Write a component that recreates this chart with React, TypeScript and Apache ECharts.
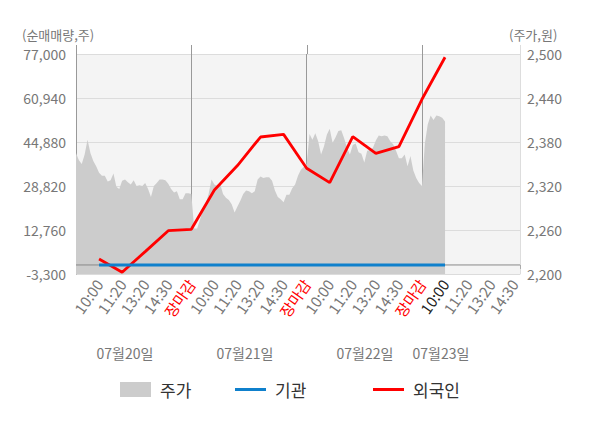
import React, { useEffect, useRef } from 'react';
import * as echarts from 'echarts';

const FONT = 'Noto Sans CJK KR';

// x axis: each day = 5 slots, each slot = 8 steps
const slotLabels = ['10:00', '11:20', '13:20', '14:30', '장마감'];
const dayLabels = ['07월20일', '07월21일', '07월22일', '07월23일'];
const STEPS_PER_SLOT = 8;
const SLOTS_PER_DAY = 5;
const AXIS_STEPS = 154;

// 주가 (price, right axis)
const day1Price = [2365, 2355, 2350, 2363, 2383, 2365, 2354, 2347, 2338, 2334, 2334, 2326, 2328, 2337, 2319, 2316, 2327, 2329, 2325, 2322, 2328, 2320, 2321, 2320, 2324, 2316, 2305, 2320, 2324, 2329, 2329, 2328, 2323, 2316, 2311, 2313, 2302, 2302, 2310, 2310, 2309];
const day2Price = [2262, 2262, 2274, 2288, 2296, 2309, 2329, 2322, 2320, 2323, 2309, 2304, 2301, 2295, 2284, 2292, 2300, 2309, 2314, 2313, 2310, 2313, 2329, 2333, 2331, 2332, 2332, 2327, 2314, 2305, 2302, 2298, 2308, 2308, 2317, 2322, 2334, 2342, 2346, 2350];
const day3Price = [2391, 2383, 2392, 2381, 2363, 2374, 2390, 2398, 2379, 2386, 2395, 2396, 2385, 2372, 2363, 2376, 2378, 2366, 2364, 2352, 2368, 2369, 2372, 2382, 2389, 2388, 2389, 2388, 2381, 2377, 2368, 2358, 2358, 2363, 2347, 2361, 2341, 2331, 2324, 2320];
const day4Price = [2378, 2404, 2416, 2410, 2416, 2415, 2413, 2408];

// 외국인 / 기관 cumulative net volume at each labelled slot (left axis)
const foreignNet = [2180, -2680, 4880, 12500, 13020, 27360, 36300, 46700, 47650, 35280, 30030, 46820, 40760, 43170, 60470, 75800];
const institutionNet = [0, 0, 0, 0, 0, 0, 0, 0, 0, 0, 0, 0, 0, 0, 0, 0];

const leftAxisRange = { min: -3300, max: 77000, interval: 16060 };
const rightAxisRange = { min: 2200, max: 2500, interval: 60 };

export default function App() {
  const ref = useRef<HTMLDivElement>(null);

  useEffect(() => {
    if (!ref.current) return;
    const chart = echarts.init(ref.current, undefined, { renderer: 'svg' });

    const categories: string[] = [];
    const tickText: string[] = [];
    for (let i = 0; i <= AXIS_STEPS; i++) {
      categories.push('s' + i);
      if (i > 0 && i % STEPS_PER_SLOT === 0) {
        tickText.push(slotLabels[(i / STEPS_PER_SLOT - 1) % SLOTS_PER_DAY]);
      } else {
        tickText.push('');
      }
    }
    const price = [...day1Price, ...day2Price, ...day3Price, ...day4Price];
    const lastIndex = price.length - 1;
    const foreignData = foreignNet.map((v, k) => [(k + 1) * STEPS_PER_SLOT, v]);
    const instData = institutionNet.map((v, k) => [(k + 1) * STEPS_PER_SLOT, v]);
    const dayStep = STEPS_PER_SLOT * SLOTS_PER_DAY;

    const legendBase = {
      top: 376,
      icon: 'rect',
      itemWidth: 31,
      textStyle: { fontSize: 17, color: '#333', fontFamily: FONT, padding: [0, 0, 0, 4] },
    };

    const baseGraphic: any[] = [
      {
        id: 'leftName',
        type: 'text',
        x: 22,
        y: 34,
        style: { text: '(순매매량,주)', fontSize: 13, fill: '#777', fontFamily: FONT, verticalAlign: 'middle' },
      },
      {
        id: 'rightName',
        type: 'text',
        x: 509,
        y: 34,
        style: { text: '(주가,원)', fontSize: 13, fill: '#777', fontFamily: FONT, verticalAlign: 'middle' },
      },
      ...dayLabels.map((t, k) => ({
        id: 'day' + k,
        type: 'text',
        x: [125, 245, 365, 441][k],
        y: 353,
        style: { text: t, fontSize: 14, fill: '#777', fontFamily: FONT, align: 'center', verticalAlign: 'middle' },
      })),
    ];

    chart.setOption({
      animation: false,
      textStyle: { fontFamily: FONT },
      grid: {
        left: 76,
        right: 80,
        top: 54,
        bottom: 154,
        show: true,
        backgroundColor: '#f4f4f4',
        borderWidth: 0,
      },
      legend: [
        { ...legendBase, left: 115, itemHeight: 15, data: ['주가'] },
        { ...legendBase, left: 230, itemHeight: 3, data: ['기관'] },
        { ...legendBase, left: 368, itemHeight: 3, data: ['외국인'] },
      ],
      xAxis: {
        type: 'category',
        data: categories,
        boundaryGap: false,
        axisLine: { show: false },
        axisTick: {
          show: true,
          length: 4,
          interval: (i: number) => i % dayStep === 0 || i === AXIS_STEPS,
          lineStyle: { color: '#aaa' },
        },
        splitLine: {
          show: true,
          interval: (i: number) => i % dayStep === 0 && i > 0 && i < AXIS_STEPS,
          lineStyle: { color: '#999', width: 1 },
        },
        axisLabel: {
          interval: (i: number) => tickText[i] !== '',
          rotate: 55,
          margin: 7,
          fontSize: 15,
          color: '#777',
          fontFamily: FONT,
          formatter: (_v: string, index: number) => {
            const t = tickText[index];
            if (!t) return '';
            if (t === '장마감') return '{close|' + t + '}';
            if (index === lastIndex) return '{now|' + t + '}';
            return t;
          },
          rich: {
            close: { color: '#ff0000', fontSize: 15, fontFamily: FONT },
            now: { color: '#222', fontSize: 15, fontFamily: FONT },
          },
        },
      },
      yAxis: [
        {
          type: 'value',
          min: leftAxisRange.min,
          max: leftAxisRange.max,
          interval: leftAxisRange.interval,
          axisLine: { show: true, lineStyle: { color: '#999' } },
          axisTick: { show: false },
          splitLine: { show: true, lineStyle: { color: '#dcdcdc' } },
          axisLabel: {
            fontSize: 14,
            color: '#777',
            margin: 10,
            fontFamily: FONT,
            formatter: (v: number) => v.toLocaleString('en-US'),
          },
        },
        {
          type: 'value',
          min: rightAxisRange.min,
          max: rightAxisRange.max,
          interval: rightAxisRange.interval,
          position: 'right',
          axisLine: { show: true, lineStyle: { color: '#ddd' } },
          axisTick: { show: false },
          splitLine: { show: false },
          axisLabel: {
            fontSize: 14,
            color: '#777',
            margin: 7,
            fontFamily: FONT,
            formatter: (v: number) => v.toLocaleString('en-US'),
          },
        },
      ],
      series: [
        {
          name: '주가',
          type: 'line',
          yAxisIndex: 1,
          data: price,
          symbol: 'none',
          showSymbol: false,
          color: '#cccccc',
          itemStyle: { color: '#cccccc' },
          lineStyle: { width: 0, color: '#cccccc' },
          areaStyle: { color: '#cccccc', opacity: 1, origin: 'start' },
          z: 1,
        },
        {
          name: 'zero',
          type: 'line',
          yAxisIndex: 0,
          data: [[0, 0], [AXIS_STEPS, 0]],
          symbol: 'none',
          silent: true,
          lineStyle: { color: '#888', width: 1 },
          z: 2,
        },
        {
          name: '외국인',
          type: 'line',
          yAxisIndex: 0,
          data: foreignData,
          symbol: 'none',
          showSymbol: false,
          color: '#ff0000',
          itemStyle: { color: '#ff0000' },
          lineStyle: { color: '#ff0000', width: 2.8 },
          z: 3,
        },
        {
          name: '기관',
          type: 'line',
          yAxisIndex: 0,
          data: instData,
          symbol: 'none',
          showSymbol: false,
          color: '#0f80cc',
          itemStyle: { color: '#0f80cc' },
          lineStyle: { color: '#0f80cc', width: 3 },
          z: 4,
        },
      ],
      graphic: baseGraphic,
    });

    // short extensions of the day divider lines above the plot area, placed via the axes
    const topY = chart.convertToPixel({ yAxisIndex: 0 }, leftAxisRange.max) as number;
    const extIdx = [0, dayStep, dayStep * 2, dayStep * 3, AXIS_STEPS];
    const ext = extIdx.map((i) => {
      const px = chart.convertToPixel({ xAxisIndex: 0 }, i) as number;
      const x = Math.round(px) + 0.5;
      return {
        id: 'ext' + i,
        type: 'line',
        silent: true,
        shape: { x1: x, y1: topY - 9, x2: x, y2: topY },
        style: { stroke: i === AXIS_STEPS ? '#ddd' : '#999', lineWidth: 1 },
      };
    });
    chart.setOption({ graphic: [...baseGraphic, ...ext] });

    return () => chart.dispose();
  }, []);

  return (
    <div
      ref={ref}
      style={{ position: 'fixed', left: 0, top: 0, width: 600, height: 428, background: '#fff' }}
    />
  );
}
